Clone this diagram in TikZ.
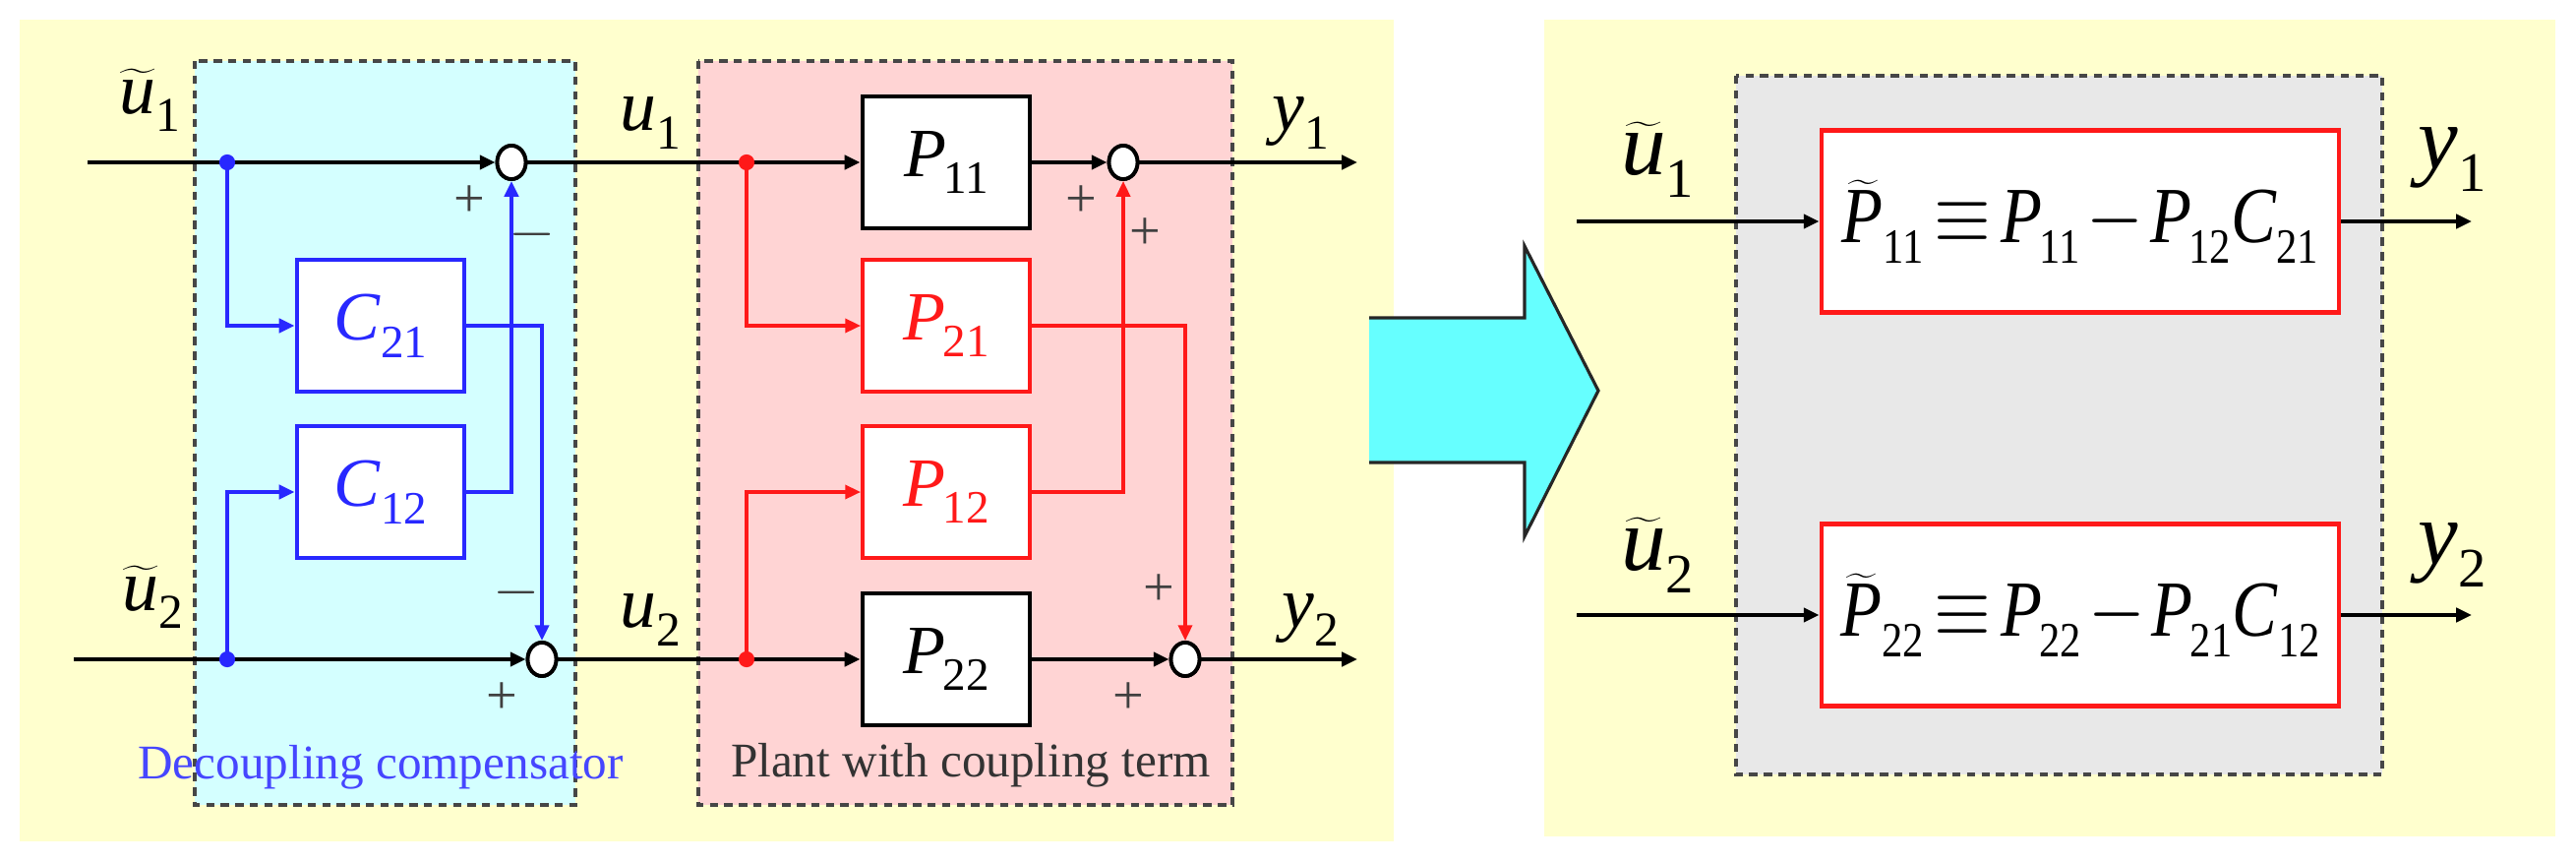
\documentclass[tikz,border=0pt]{standalone}
\usepackage{fontspec}
\setmainfont{Liberation Serif}
\usepackage{graphicx}
\usetikzlibrary{arrows.meta,shapes.geometric}
\definecolor{bgyellow}{RGB}{255,255,206}
\definecolor{cbox}{RGB}{212,255,255}
\definecolor{pbox}{RGB}{255,212,212}
\definecolor{gbox}{RGB}{232,232,232}
\definecolor{bl}{RGB}{40,40,255}
\definecolor{rd}{RGB}{255,25,25}
\definecolor{dashc}{RGB}{70,70,70}
\definecolor{cyanarrow}{RGB}{102,255,255}
\definecolor{txtblue}{RGB}{70,70,255}
\newcommand{\subscale}{0.67}
\newcommand{\ssub}[1]{\raisebox{-0.25em}{\scalebox{\subscale}{#1}}}
\newcommand{\Pv}[1]{\textit{P}\kern-0.04em\ssub{#1}}
\newcommand{\Cv}[1]{\textit{C}\ssub{#1}}
\newcommand{\tld}[1]{$\widetilde{\mbox{\textit{#1}}}$}
\tikzset{
  arr/.style={line width=1.15pt, -{Triangle[length=4.5pt,width=4pt]}},
  barr/.style={arr, draw=bl},
  rarr/.style={arr, draw=rd, line width=0.95pt},
  blk/.style={draw=black, line width=1.4pt, fill=white, minimum width=17mm, minimum height=13.4mm, inner sep=0pt, font=\fontsize{20}{24}\selectfont},
  cblk/.style={blk, draw=bl, text=bl},
  rblk/.style={blk, draw=rd, text=rd, line width=1.1pt},
  bigblk/.style={draw=rd, line width=1.4pt, fill=white, minimum width=52.6mm, minimum height=18.5mm, inner sep=0pt, font=\fontsize{23}{27}\selectfont},
  sumj/.style={ellipse, draw, line width=1.1pt, fill=white, minimum width=2.9mm, minimum height=3.4mm, inner sep=0pt},
  bdot/.style={circle, fill=bl, inner sep=0pt, minimum size=4.6pt},
  rdot/.style={circle, fill=rd, inner sep=0pt, minimum size=4.6pt},
  lab/.style={inner sep=0pt, font=\fontsize{21}{25}\selectfont},
  rlab/.style={inner sep=0pt, font=\fontsize{26}{30}\selectfont},
  pm/.style={inner sep=0pt, font=\fontsize{16}{18}\selectfont, text=black!75},
  grp/.style={draw=dashc, dash pattern=on 2.4pt off 1.8pt, line width=0.9pt},
  captxt/.style={inner sep=0pt, font=\fontsize{14}{16}\selectfont},
}
\begin{document}
\begin{tikzpicture}[x=0.1mm,y=-0.1mm]
\useasboundingbox (0,0) rectangle (2619,876);
\fill[white] (0,0) rectangle (2619,876);
% panels
\fill[bgyellow] (20,20) rectangle (1417,855);
\fill[bgyellow] (1570,20) rectangle (2598,850);
% group boxes
\filldraw[grp, fill=cbox] (198,62) rectangle (585,818);
\filldraw[grp, fill=pbox] (710,62) rectangle (1253,818);
\filldraw[grp, fill=gbox] (1765,77) rectangle (2422,787);
% cyan arrow
\fill[cyanarrow] (1392,323) -- (1550,323) -- (1550,250) -- (1625,397) -- (1550,545) -- (1550,470) -- (1392,470) -- cycle;
\draw[line width=0.9pt, draw=black!85] (1392,323) -- (1550,323) -- (1550,250) -- (1625,397) -- (1550,545) -- (1550,470) -- (1392,470);

% ---- left panel nodes
\coordinate (u1in) at (89,165);
\coordinate (u2in) at (75,670);
\node[sumj] (S1) at (520,165) {};
\node[sumj] (S2) at (551,670) {};
\node[cblk] (C21) at (387,331) {\Cv{21}};
\node[cblk] (C12) at (387,500) {\Cv{12}};
\node[blk] (P11) at (962,165) {\Pv{11}};
\node[rblk] (P21) at (962,331) {\Pv{21}};
\node[rblk] (P12) at (962,500) {\Pv{12}};
\node[blk] (P22) at (962,670) {\Pv{22}};
\node[sumj] (S3) at (1142,165) {};
\node[sumj] (S4) at (1205,670) {};
\coordinate (y1out) at (1380,165);
\coordinate (y2out) at (1380,670);
\coordinate (d1) at (231,165);
\coordinate (d2) at (231,670);
\coordinate (r1) at (759,165);
\coordinate (r2) at (759,670);

% black signal lines
\draw[arr] (u1in) -- (S1.west);
\draw[arr] (u2in) -- (S2.west);
\draw[arr] (S1.east) -- (P11.west);
\draw[arr] (S2.east) -- (P22.west);
\draw[arr] (P11.east) -- (S3.west);
\draw[arr] (P22.east) -- (S4.west);
\draw[arr] (S3.east) -- (y1out);
\draw[arr] (S4.east) -- (y2out);
% blue compensator lines
\draw[barr] (d1) |- (C21.west);
\draw[barr] (d2) |- (C12.west);
\draw[barr] (C21.east) -| (S2.north);
\draw[barr] (C12.east) -| (S1.south);
% red coupling lines
\draw[rarr] (r1) |- (P21.west);
\draw[rarr] (r2) |- (P12.west);
\draw[rarr] (P21.east) -| (S4.north);
\draw[rarr] (P12.east) -| (S3.south);
% redraw junctions on top
\node[sumj] at (S1) {};
\node[sumj] at (S2) {};
\node[sumj] at (S3) {};
\node[sumj] at (S4) {};
\node[bdot] (D1) at (d1) {};
\node[bdot] (D2) at (d2) {};
\node[rdot] (R1) at (r1) {};
\node[rdot] (R2) at (r2) {};

% labels
\node[lab] (lu1) at (152,102) {\tld{u}\ssub{1}};
\node[lab] (lu2) at (155,607) {\tld{u}\ssub{2}};
\node[lab] (lv1) at (661,125) {\textit{u}\ssub{1}};
\node[lab] (lv2) at (661,630) {\textit{u}\ssub{2}};
\node[lab] (ly1) at (1322,125) {\textit{y}\ssub{1}};
\node[lab] (ly2) at (1332,630) {\textit{y}\ssub{2}};
% signs
\node[pm] (p1) at (477,205) {+};
\node[pm] (m1) at (541,238) {$-$};
\node[pm] (m2) at (525,602) {$-$};
\node[pm] (p2) at (510,710) {+};
\node[pm] (p3) at (1099,205) {+};
\node[pm] (p4) at (1164,238) {+};
\node[pm] (p5) at (1178,600) {+};
\node[pm] (p6) at (1147,710) {+};
% captions
\node[captxt, text=txtblue] (capc) at (387,780) {Decoupling compensator};
\node[captxt, text=black!80] (capp) at (987,778) {Plant with coupling term};

% ---- right panel
\renewcommand{\subscale}{0.62}
\node[bigblk] (B1) at (2115,225) {\scalebox{0.85}[1]{\tld{P}\ssub{11}\kern0.15em$\equiv$\kern0.15em\Pv{11}\kern0.1em$-$\kern0.1em\Pv{12}\Cv{21}}};
\node[bigblk] (B2) at (2115,625) {\scalebox{0.85}[1]{\tld{P}\ssub{22}\kern0.15em$\equiv$\kern0.15em\Pv{22}\kern0.1em$-$\kern0.1em\Pv{21}\Cv{12}}};
\coordinate (in1) at (1603,225);
\coordinate (in2) at (1603,625);
\coordinate (out1) at (2513,225);
\coordinate (out2) at (2513,625);
\draw[arr] (in1) -- (B1.west);
\draw[arr] (in2) -- (B2.west);
\draw[arr] (B1.east) -- (out1);
\draw[arr] (B2.east) -- (out2);
\node[rlab] (ru1) at (1685,162) {\tld{u}\ssub{1}};
\node[rlab] (ru2) at (1685,564) {\tld{u}\ssub{2}};
\node[rlab] (ry1) at (2493,162) {\textit{y}\ssub{1}};
\node[rlab] (ry2) at (2493,564) {\textit{y}\ssub{2}};
\end{tikzpicture}
\end{document}
